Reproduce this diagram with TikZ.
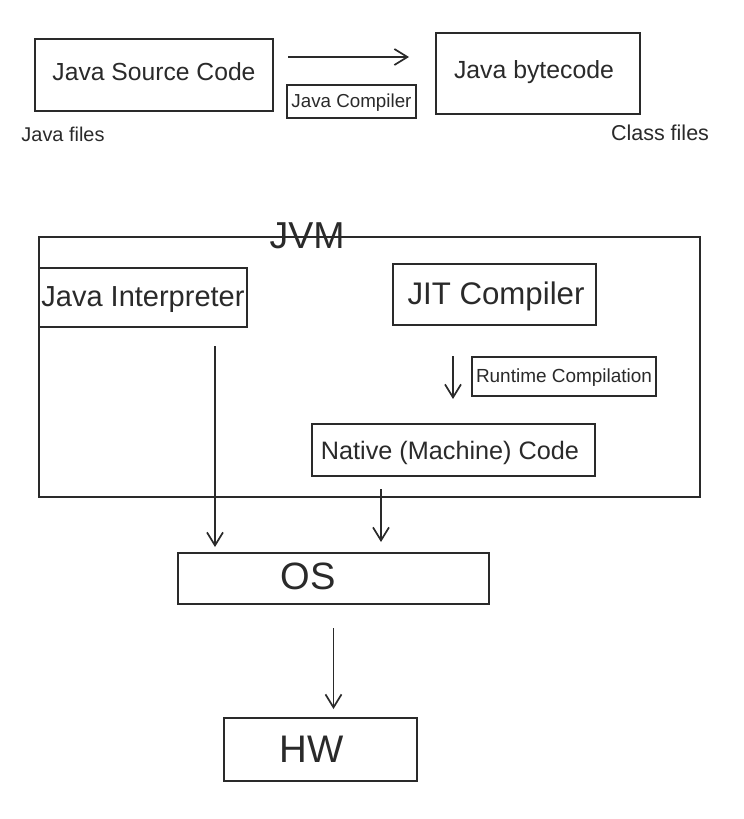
\documentclass[tikz,border=0pt]{standalone}
\usepackage{fontspec}
\setmainfont{Liberation Sans}
\usepackage{graphicx}
\usetikzlibrary{arrows.meta,calc}
\definecolor{ink}{HTML}{2A2A2A}
\newcommand{\fitw}[2]{\resizebox{#1pt}{!}{\strut #2}}
\begin{document}
\begin{tikzpicture}[x=1pt,y=-1pt,
  box/.style={draw=ink,line width=2pt,rectangle,inner sep=0pt},
  lbl/.style={text=ink,inner sep=0pt},
  arr/.style={draw=ink,line width=1.7pt,-{Straight Barb[length=13pt,width=16pt,line width=1.7pt]}}]
\useasboundingbox[fill=white] (0,0) rectangle (744,819);
% top row
\node[box,minimum width=238,minimum height=72] (src) at (154,75) {};
\node[lbl] (srct) at (154,75) {\fitw{203}{Java Source Code}};
\node[lbl] (jf) at (63,137) {\fitw{83}{Java files}};
\node[box,minimum width=129,minimum height=33] (jc) at (351.5,101.5) {};
\node[lbl] (jct) at (351.5,103) {\fitw{120}{Java Compiler}};
\node[box,minimum width=204,minimum height=81] (bc) at (538,73.5) {};
\node[lbl] (bct) at (534,73) {\fitw{160}{Java bytecode}};
\node[lbl] (cf) at (660,135) {\fitw{98}{Class files}};
\draw[arr,shorten >=26pt] (src.east) ++(14,-18) coordinate (a1) -- (a1 -| bc.west);
% JVM
\node[box,minimum width=661,minimum height=260] (jvm) at (369.5,367) {};
\node[lbl] (jvmt) at (307,239) {\fitw{75}{JVM}};
\node[box,minimum width=208,minimum height=59] (interp) at (143,297.5) {};
\node[lbl] (interpt) at (143,300) {\fitw{203}{Java Interpreter}};
\node[box,minimum width=203,minimum height=61] (jit) at (494.5,294.5) {};
\node[lbl] (jitt) at (496,297) {\fitw{177}{JIT Compiler}};
\node[box,minimum width=184,minimum height=39] (rc) at (564,376.5) {};
\node[lbl] (rct) at (564,378) {\fitw{176}{Runtime Compilation}};
\node[box,minimum width=283,minimum height=52] (nat) at (453.5,450) {};
\node[lbl] (natt) at (450,453) {\fitw{258}{Native (Machine) Code}};
\draw[arr] ([xshift=-41.5pt,yshift=-30pt]jit.south) coordinate (a2) -- ++(0,43);
% OS and HW
\node[box,minimum width=311,minimum height=51] (os) at (333.5,578.5) {};
\node[lbl] (ost) at (308,580) {\fitw{55}{OS}};
\node[box,minimum width=193,minimum height=63] (hw) at (320.5,749.5) {};
\node[lbl] (hwt) at (312,753) {\fitw{64}{HW}};
\draw[arr,shorten >=5pt] ([xshift=72pt,yshift=-18pt]interp.south) coordinate (a3) -- (a3 |- os.north);
\draw[arr,shorten >=10pt] ([xshift=-72.5pt,yshift=-12pt]nat.south) coordinate (a4) -- (a4 |- os.north);
\draw[arr,shorten >=8pt] ([yshift=-23pt]os.south) coordinate (a5) -- (a5 |- hw.north);
\end{tikzpicture}
\end{document}
